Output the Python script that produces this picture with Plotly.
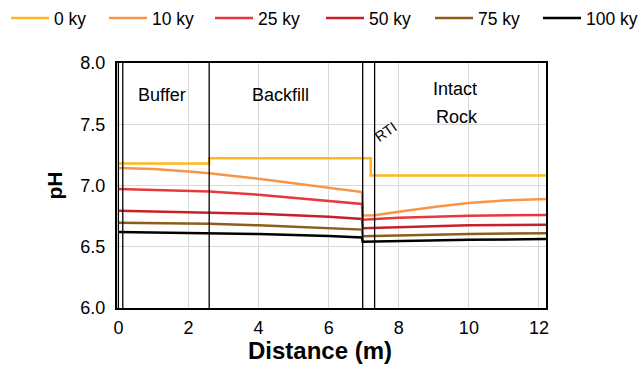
import plotly.graph_objects as go

# Zone boundaries (m)
boundaries = [0.0, 0.125, 2.59, 6.97, 7.31]

series_names = ["0 ky", "10 ky", "25 ky", "50 ky", "75 ky", "100 ky"]
series_colors = ["#FFB81C", "#F79646", "#E8383D", "#C8202A", "#8B5E1A", "#000000"]

x_0ky = [0, 2.59, 2.59, 7.2, 7.2, 12.2]
ph_0ky = [7.18, 7.18, 7.222, 7.222, 7.082, 7.082]

x_10ky = [0, 1, 2, 2.59, 4, 5, 6, 6.95, 6.97, 7.31, 8, 9, 10, 11, 12.2]
ph_10ky = [7.143, 7.135, 7.115, 7.10, 7.055, 7.02, 6.985, 6.947, 6.755, 6.757, 6.785, 6.825, 6.858, 6.878, 6.89]

x_25ky = [0, 2.59, 4, 5, 6, 6.95, 6.97, 7.31, 8, 10, 12.2]
ph_25ky = [6.971, 6.952, 6.925, 6.9, 6.875, 6.85, 6.72, 6.725, 6.737, 6.753, 6.76]

x_50ky = [0, 2.59, 4, 6, 6.95, 6.97, 7.31, 8, 10, 12.2]
ph_50ky = [6.794, 6.782, 6.77, 6.745, 6.727, 6.652, 6.655, 6.663, 6.675, 6.68]

x_75ky = [0, 2.59, 4, 6, 6.95, 6.97, 7.31, 8, 10, 12.2]
ph_75ky = [6.696, 6.688, 6.675, 6.655, 6.64, 6.585, 6.587, 6.595, 6.605, 6.61]

x_100ky = [0, 2.59, 4, 6, 6.95, 6.97, 7.31, 8, 10, 12.2]
ph_100ky = [6.62, 6.612, 6.604, 6.588, 6.576, 6.54, 6.542, 6.548, 6.557, 6.563]

xs = [x_0ky, x_10ky, x_25ky, x_50ky, x_75ky, x_100ky]
ys = [ph_0ky, ph_10ky, ph_25ky, ph_50ky, ph_75ky, ph_100ky]

zone_labels = ["Buffer", "Backfill", "Intact", "Rock"]
zone_label_x = [1.25, 4.63, 9.6, 9.65]
zone_label_y = [7.74, 7.74, 7.79, 7.56]

x_ticks = [0, 2, 4, 6, 8, 10, 12]
y_ticks = [6.0, 6.5, 7.0, 7.5, 8.0]

FONT = "Liberation Sans, Arial, sans-serif"

# legend entry left edges (px in the 640-wide page)
legend_px = [6, 104, 210, 321, 430, 538]

fig = go.Figure()
legend_layout = {}
for i, (name, color, x, y) in enumerate(zip(series_names, series_colors, xs, ys)):
    key = "legend" if i == 0 else f"legend{i + 1}"
    fig.add_trace(go.Scatter(x=x, y=y, mode="lines", name=name, legend=key,
                             line=dict(color=color, width=2.5)))
    legend_layout[key] = dict(orientation="h", xref="container", yref="container",
                              x=legend_px[i] / 640, xanchor="left",
                              y=1 - 18 / 365, yanchor="middle",
                              itemwidth=38, bgcolor="rgba(0,0,0,0)",
                              font=dict(size=17.5, family=FONT, color="black"))

for b in boundaries:
    fig.add_shape(type="line", x0=b, x1=b, y0=6, y1=8, xref="x", yref="y",
                  line=dict(color="black", width=1.3))

for t, x, y in zip(zone_labels, zone_label_x, zone_label_y):
    fig.add_annotation(x=x, y=y, text=t, showarrow=False,
                       font=dict(size=18, color="black", family=FONT))

fig.add_annotation(x=7.62, y=7.44, text="RTI", showarrow=False, textangle=-35,
                   font=dict(size=14.5, color="black", family=FONT))

# x-axis title
fig.add_annotation(x=(320 - 117) / 429, y=(308 - 350) / 245, xref="paper", yref="paper",
                   text="<b>Distance (m)</b>", showarrow=False, yanchor="middle",
                   font=dict(size=24, color="black", family=FONT))

fig.update_layout(
    width=640, height=365,
    margin=dict(l=117, r=94, t=63, b=57, autoexpand=False),
    paper_bgcolor="white", plot_bgcolor="white",
    font=dict(family=FONT, color="black"),
    showlegend=True,
    **legend_layout,
)
fig.update_xaxes(range=[-0.04, 12.2], tickvals=x_ticks, ticktext=[str(v) for v in x_ticks],
                 showgrid=True, gridcolor="#d9d9d9", gridwidth=1, zeroline=False,
                 showline=True, linecolor="black", linewidth=2, mirror=True,
                 ticks="", tickfont=dict(size=18), ticklabelstandoff=2)
fig.update_yaxes(range=[6, 8], tickvals=y_ticks, ticktext=[f"{v:.1f}" for v in y_ticks],
                 showgrid=True, gridcolor="#d9d9d9", gridwidth=1, zeroline=False,
                 showline=True, linecolor="black", linewidth=2, mirror=True,
                 ticks="", tickfont=dict(size=18), ticklabelstandoff=6,
                 title=dict(text="<b>pH</b>", font=dict(size=21), standoff=12))

fig.write_html("out.html")
